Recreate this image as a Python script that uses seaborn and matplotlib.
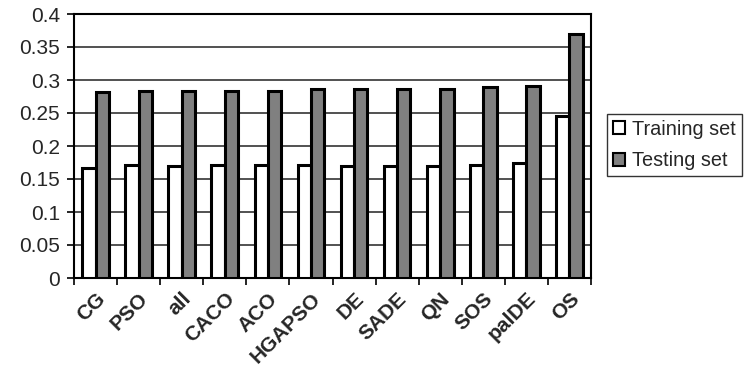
import matplotlib
matplotlib.use("Agg")
import matplotlib.pyplot as plt
import seaborn as sns
import pandas as pd
import numpy as np

categories = ["CG", "PSO", "all", "CACO", "ACO", "HGAPSO", "DE", "SADE", "QN", "SOS", "palDE", "OS"]
training = [0.166, 0.171, 0.170, 0.171, 0.171, 0.171, 0.170, 0.170, 0.170, 0.171, 0.174, 0.246]
testing = [0.282, 0.284, 0.284, 0.284, 0.284, 0.287, 0.287, 0.287, 0.287, 0.290, 0.291, 0.369]
series = ["Training set", "Testing set"]
yticks = [0, 0.05, 0.1, 0.15, 0.2, 0.25, 0.3, 0.35, 0.4]
ytick_labels = ["0", "0.05", "0.1", "0.15", "0.2", "0.25", "0.3", "0.35", "0.4"]

df = pd.DataFrame({
    "method": categories * 2,
    "value": training + testing,
    "set": [series[0]] * len(categories) + [series[1]] * len(categories),
})

sns.set_style("white")
plt.rcParams["font.family"] = ["Liberation Sans", "DejaVu Sans"]

fig = plt.figure(figsize=(7.48, 3.74), dpi=100)
ax = fig.add_axes([74 / 748, 1 - 278 / 374, (591 - 74) / 748, (278 - 14) / 374])

sns.barplot(data=df, x="method", y="value", hue="set", order=categories,
            hue_order=series, palette=["#ffffff", "#808080"], width=0.62,
            edgecolor="black", linewidth=2.2, ax=ax, zorder=3)

ax.set_ylim(0, 0.4)
ax.set_xlim(-0.5, len(categories) - 0.5)
ax.set_yticks(yticks)
ax.set_yticklabels(ytick_labels, fontsize=15)
ax.yaxis.grid(True, color="#333333", linewidth=1.2, zorder=0)
ax.set_axisbelow(True)
ax.set_xlabel("")
ax.set_ylabel("")

ax.set_xticks(range(len(categories)))
ax.set_xticklabels(categories, rotation=45, ha="right", rotation_mode="anchor",
                   fontsize=15, fontweight="bold")
ax.tick_params(axis="x", which="major", length=0, pad=8)
ax.set_xticks(np.arange(-0.5, len(categories) + 0.5, 1.0), minor=True)
ax.tick_params(axis="x", which="minor", length=5, width=1.2, color="black", direction="out", bottom=True)
ax.tick_params(axis="y", length=5, width=1.2, color="black", direction="out", left=True, pad=5)

for s in ax.spines.values():
    s.set_visible(True)
    s.set_color("black")
    s.set_linewidth(1.5)

handles, labels = ax.get_legend_handles_labels()
leg = ax.legend(handles, labels, loc="center left", bbox_to_anchor=(607 / 748, 1 - 145 / 374),
                bbox_transform=fig.transFigure, fontsize=14.3, frameon=True, fancybox=False,
                edgecolor="black", handlelength=0.6, handleheight=0.6, handletextpad=0.35,
                borderpad=0.3, labelspacing=0.65, borderaxespad=0)
leg.get_frame().set_linewidth(1.0)
for h in leg.legend_handles:
    h.set_linewidth(1.5)

fig.savefig("out.png", dpi=100)
